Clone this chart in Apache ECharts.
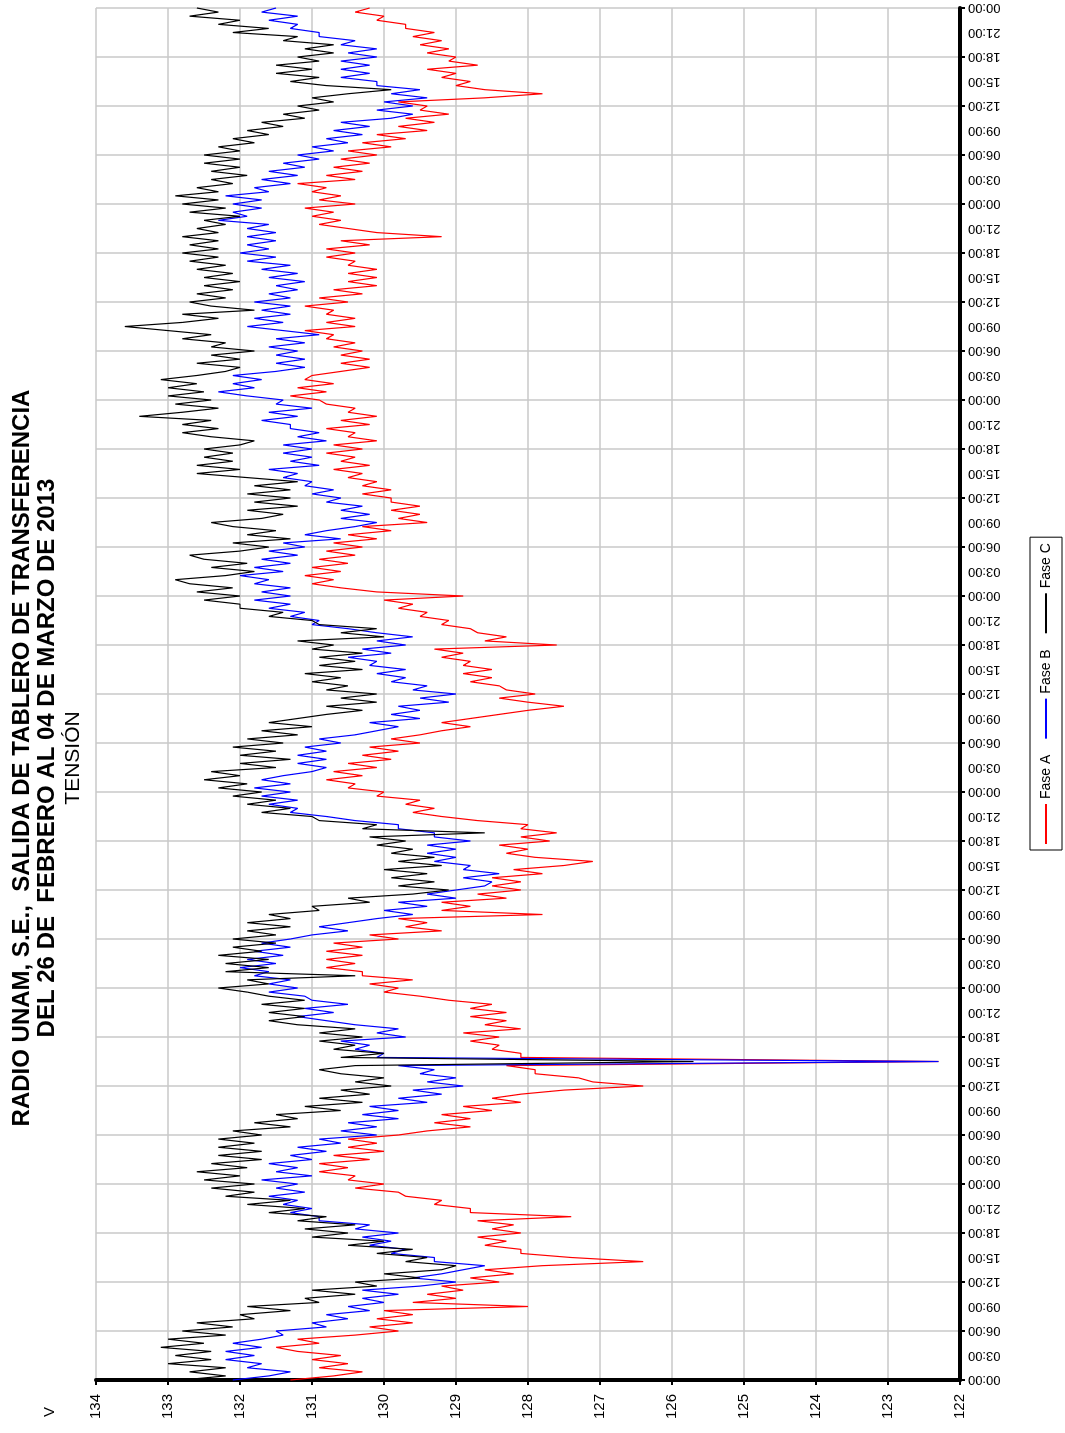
<!DOCTYPE html>
<html>
<head>
<meta charset="utf-8">
<title>Tensión – Radio UNAM</title>
<script src="https://cdn.jsdelivr.net/npm/echarts@6/dist/echarts.min.js"></script>
<style>
  html, body { margin: 0; padding: 0; width: 1065px; height: 1433px; overflow: hidden; background: #fff; }
  /* the chart is laid out landscape and turned a quarter turn counter-clockwise */
  #chart {
    position: absolute; left: 0; top: 0;
    width: 1433px; height: 1065px;
    transform-origin: 0 0;
    transform: translate(0, 1433px) rotate(-90deg);
  }
</style>
</head>
<body>
<div id="chart"></div>
<script>
// Half-hourly voltage readings, 26 Feb 00:00 to 05 Mar 00:00 (337 samples each, one row = 8 h)
const faseA = [
131.3,130.7,130.3,130.9,130.5,131.0,130.6,131.2,131.5,130.9,131.2,130.4,129.8,130.2,129.6,130.1,
129.6,130.0,128.0,129.6,129.0,129.4,128.9,129.2,128.4,128.8,128.2,128.6,127.8,126.4,127.4,128.1,
128.1,128.6,128.3,128.7,128.1,128.5,128.2,128.7,127.4,128.8,128.8,129.3,129.2,129.7,129.8,130.4,
130.0,130.5,130.4,130.9,130.5,130.9,130.2,130.7,130.0,130.5,130.1,130.5,129.8,129.4,128.8,129.3,
128.8,129.2,128.5,128.9,128.1,128.5,128.1,127.5,126.4,127.1,127.3,127.9,127.9,128.3,122.3,128.1,
128.1,128.5,128.4,128.8,128.4,128.9,128.1,128.6,128.3,128.8,128.3,128.8,128.5,129.1,129.5,130.0,
129.8,130.2,129.6,130.3,130.3,130.8,130.4,130.8,130.3,130.8,130.3,130.7,129.8,130.2,129.2,129.7,
129.4,129.8,127.8,129.2,128.8,129.2,128.3,128.7,128.1,128.5,128.1,128.5,127.8,128.2,127.5,127.1,
127.9,128.3,128.0,128.4,127.7,128.1,127.6,128.1,128.0,128.7,129.2,129.6,129.3,129.7,129.5,130.1,
130.0,130.5,130.4,130.8,130.3,130.7,130.1,130.5,129.9,130.3,129.8,130.2,129.5,129.9,129.5,129.2,
128.8,129.2,128.8,128.4,128.0,127.5,128.0,128.4,127.9,128.3,128.4,128.8,128.5,128.9,128.5,128.9,
128.8,129.2,128.9,129.3,127.6,128.6,128.3,128.7,128.8,129.2,129.1,129.5,129.4,129.8,129.6,130.0,
128.9,130.1,130.6,131.0,130.7,131.1,130.6,131.0,130.5,130.9,130.4,130.8,130.3,130.7,130.1,130.5,
129.9,130.3,129.4,129.8,129.5,129.9,129.5,129.9,129.9,130.3,129.9,130.3,130.1,130.5,130.3,130.7,
130.2,130.6,130.4,130.8,130.3,130.7,130.1,130.5,130.4,130.8,130.2,130.6,130.1,130.5,130.4,130.8,
130.9,131.3,130.8,131.2,130.7,131.1,131.0,130.6,130.2,130.6,130.2,130.6,130.3,130.7,130.4,130.8,
130.7,131.1,130.4,130.8,130.4,130.8,130.7,131.1,130.5,130.9,130.3,130.7,130.1,130.5,130.1,130.5,
130.1,130.5,130.4,130.8,130.4,130.8,130.2,130.6,129.2,130.1,130.5,130.9,130.6,131.0,130.7,131.1,
130.4,130.9,130.6,131.0,130.8,131.2,130.4,130.8,130.3,130.7,130.2,130.6,130.1,130.5,129.9,130.3,
129.7,130.1,129.4,129.8,129.3,129.7,129.1,129.5,129.4,129.8,128.6,127.8,128.6,129.0,128.8,129.2,
129.0,129.4,128.7,129.1,129.0,129.4,129.1,129.5,129.2,129.6,129.3,129.7,129.7,130.1,130.0,130.4,
130.2
];

const faseB = [
132.1,131.6,131.3,131.9,131.7,132.2,131.8,132.2,131.7,132.1,131.7,131.4,131.5,130.8,131.0,130.5,
130.8,130.2,130.5,130.0,130.3,129.8,130.3,129.5,129.0,129.6,129.2,128.9,128.6,129.3,129.3,129.9,
129.7,130.2,129.9,130.3,129.8,130.4,130.2,130.9,130.9,131.3,131.0,131.4,131.2,131.6,131.1,131.5,
131.2,131.7,131.0,131.5,131.2,131.6,131.0,131.3,130.8,131.2,130.6,130.9,130.1,130.6,130.1,130.5,
129.8,130.3,129.8,130.2,129.4,129.8,129.2,129.6,128.9,129.4,129.0,129.5,129.3,129.8,122.3,130.1,
130.0,130.4,130.2,130.6,129.7,130.1,129.8,130.4,130.8,131.2,130.7,131.1,130.5,131.0,131.1,131.6,
131.2,131.6,131.3,131.8,131.6,132.0,131.5,131.9,131.4,131.8,131.3,131.7,131.3,131.0,130.5,130.9,
130.5,130.1,129.6,130.0,129.4,129.8,129.0,129.4,129.0,128.6,128.5,128.9,128.4,128.9,128.8,129.3,
129.0,129.4,129.0,129.4,128.8,129.3,129.3,129.8,129.8,130.4,130.8,131.3,131.2,131.6,131.2,131.7,
131.3,131.8,131.3,131.7,131.4,131.0,130.8,131.2,130.8,131.2,130.8,131.1,130.6,130.9,130.4,130.1,
129.8,130.2,129.5,129.9,129.5,129.8,129.1,129.5,129.0,129.6,129.4,129.9,129.7,130.1,129.7,130.2,
130.1,130.5,129.9,130.3,129.7,130.1,129.6,130.1,130.5,131.0,130.9,131.3,131.1,131.6,131.3,131.8,
131.3,131.7,131.3,131.8,131.6,132.0,131.4,131.8,131.3,131.7,131.2,131.6,131.1,131.4,130.6,131.1,
130.8,130.4,130.1,130.6,130.2,130.6,130.3,130.8,130.6,131.0,130.7,131.1,131.0,131.4,131.2,131.6,
130.9,131.3,131.0,131.4,131.0,131.4,130.8,131.2,130.9,131.3,131.3,131.7,131.2,131.6,131.0,131.5,
131.4,131.9,132.3,131.8,132.1,131.7,132.1,131.5,131.1,131.5,131.1,131.5,131.2,131.6,131.1,131.5,
130.9,131.4,131.9,131.4,131.8,131.3,131.7,131.3,131.8,131.3,131.6,131.2,131.5,131.1,131.6,131.2,
131.7,131.3,131.9,131.5,132.0,131.6,131.9,131.5,131.9,131.5,131.9,131.6,132.3,131.9,132.1,131.7,
132.1,131.7,132.2,131.6,131.8,131.3,131.7,131.2,131.6,131.1,131.4,130.9,131.2,130.7,131.0,130.5,
130.8,130.3,130.7,130.2,130.6,129.9,129.6,130.1,129.6,130.0,129.4,129.9,129.5,130.1,130.1,130.6,
130.2,130.6,130.2,130.6,130.1,130.5,130.1,130.6,130.4,130.9,130.9,131.3,131.2,131.6,131.2,131.7,
131.5
];

const faseC = [
132.8,132.2,132.7,132.2,133.0,132.4,132.9,132.4,133.1,132.5,133.0,132.2,132.8,132.1,132.6,131.8,
132.0,131.3,131.9,130.9,131.1,130.4,131.0,130.1,130.4,129.5,130.0,129.2,129.0,129.7,129.4,130.1,
129.6,130.5,130.0,131.0,130.5,131.1,130.4,131.2,130.8,131.6,131.1,131.9,131.3,132.2,131.8,132.4,
131.8,132.5,132.0,132.6,131.9,132.4,131.7,132.3,131.7,132.3,131.8,132.3,131.7,132.1,131.3,131.8,
131.2,131.5,130.6,131.1,130.3,130.9,130.2,130.6,129.9,130.4,130.0,130.6,130.9,130.4,125.7,130.6,
130.0,130.7,130.4,130.9,130.3,130.9,130.4,131.2,131.6,131.1,131.6,131.1,131.7,131.1,131.6,131.9,
132.3,131.6,131.9,130.4,132.2,131.6,132.2,131.6,132.3,131.7,132.1,131.5,132.1,131.5,131.9,131.3,
131.9,131.3,131.6,130.9,131.0,130.2,130.5,129.6,129.1,129.8,129.3,129.9,129.4,130.0,129.2,129.8,
129.3,129.9,129.6,130.1,129.7,130.2,128.6,130.3,130.1,130.9,131.0,131.7,131.3,131.9,131.5,132.1,
131.7,132.3,131.9,132.5,132.0,132.4,131.5,132.0,131.3,132.0,131.5,132.1,131.4,131.9,131.2,131.7,
131.0,131.6,131.2,130.8,130.3,130.8,130.1,130.6,130.1,130.8,130.5,131.0,130.6,131.1,130.3,130.9,
130.4,130.9,130.3,131.0,130.7,131.2,130.0,130.6,130.1,130.9,131.0,131.6,131.4,132.0,132.0,132.5,
132.0,132.6,132.1,132.7,132.9,132.2,131.8,132.4,131.9,132.5,132.7,132.0,131.6,132.1,131.3,131.9,
131.5,132.1,132.4,131.7,131.4,131.9,131.2,131.8,131.3,131.9,131.3,131.8,131.2,131.9,132.6,132.0,
132.6,132.1,132.5,132.1,132.5,132.0,131.8,132.4,132.8,132.3,132.8,132.4,133.4,132.8,132.3,132.9,
132.4,133.0,132.5,133.0,132.6,133.1,132.6,132.2,132.0,132.6,132.0,132.4,131.8,132.4,132.2,132.8,
132.4,133.0,133.6,132.8,132.3,132.8,131.8,132.4,132.7,132.2,132.6,132.1,132.5,132.0,132.5,132.1,
132.6,132.2,132.7,132.3,132.8,132.3,132.7,132.3,132.8,132.3,132.6,132.2,132.5,132.0,132.7,132.2,
132.8,132.3,132.9,132.3,132.6,132.1,132.4,131.9,132.4,132.0,132.5,132.0,132.5,132.0,132.3,131.8,
132.1,131.6,131.9,131.4,131.7,131.1,131.4,130.9,131.2,130.7,131.0,130.5,129.9,130.8,131.3,130.9,
131.5,131.0,131.5,130.9,131.2,130.7,131.1,130.7,131.4,131.2,132.1,131.6,132.3,132.0,132.7,132.3,
132.6
];

const seriesNames = ['Fase A', 'Fase B', 'Fase C'];
const seriesColors = ['#ff0000', '#0000ff', '#000000'];
const titleLines = [
  'RADIO UNAM, S.E.,  SALIDA DE TABLERO DE TRANSFERENCIA',
  'DEL 26 DE  FEBRERO AL 04 DE MARZO DE 2013',
  'TENSIÓN'
];
const unitLabel = 'V';

// time categories every half hour: "HH:MM"
const categories = faseA.map((_, i) => {
  const h = Math.floor(i / 2) % 24;
  return (h < 10 ? '0' : '') + h + (i % 2 ? ':30' : ':00');
});

const FONT = '"Liberation Sans", Arial, sans-serif';
const chart = echarts.init(document.getElementById('chart'), null, { renderer: 'canvas' });

const centred = { align: 'center', verticalAlign: 'middle', textAlign: 'center', textVerticalAlign: 'middle', fill: '#000' };

chart.setOption({
  animation: false,
  backgroundColor: '#ffffff',
  grid: { left: 53, right: 8, top: 96, bottom: 105, outerBoundsMode: 'none' },
  graphic: [
    { type: 'text', x: 675, y: 22, style: Object.assign({ text: titleLines[0], font: 'bold 24px ' + FONT }, centred) },
    { type: 'text', x: 675, y: 47, style: Object.assign({ text: titleLines[1], font: 'bold 24px ' + FONT }, centred) },
    { type: 'text', x: 675, y: 73, style: Object.assign({ text: titleLines[2], font: '21px ' + FONT }, centred) },
    { type: 'text', x: 21, y: 50, style: Object.assign({ text: unitLabel, font: '15px ' + FONT }, centred) }
  ],
  legend: {
    data: seriesNames,
    left: 583, top: 1030,
    orient: 'horizontal',
    icon: 'rect', itemWidth: 40, itemHeight: 2, itemGap: 16,
    textStyle: { fontSize: 14, fontFamily: FONT, color: '#000' },
    borderColor: '#000', borderWidth: 1, padding: [9, 6],
    backgroundColor: '#fff'
  },
  xAxis: {
    type: 'category',
    data: categories,
    boundaryGap: false,
    axisLine: { lineStyle: { color: '#000', width: 4 } },
    axisTick: { show: true, interval: 11, length: 5, lineStyle: { color: '#000', width: 2 } },
    axisLabel: { interval: 5, rotate: 90, fontSize: 13, fontFamily: FONT, color: '#000', margin: 8 },
    splitLine: { show: true, interval: 11, lineStyle: { color: '#c8c8c8', width: 1.5 } }
  },
  yAxis: {
    type: 'value',
    min: 122, max: 134, interval: 1,
    axisLine: { show: true, lineStyle: { color: '#000', width: 4 } },
    axisTick: { show: true, length: 5, lineStyle: { color: '#000', width: 2 } },
    axisLabel: { fontSize: 15, fontFamily: FONT, color: '#000', margin: 14 },
    splitLine: { show: true, lineStyle: { color: '#c8c8c8', width: 1.5 } }
  },
  series: [faseA, faseB, faseC].map((d, k) => ({
    name: seriesNames[k],
    type: 'line',
    data: d,
    symbol: 'none',
    showSymbol: false,
    sampling: null,
    color: seriesColors[k],
    lineStyle: { color: seriesColors[k], width: 1.2 },
    itemStyle: { color: seriesColors[k] },
    z: 2 + k
  }))
});
</script>
</body>
</html>
